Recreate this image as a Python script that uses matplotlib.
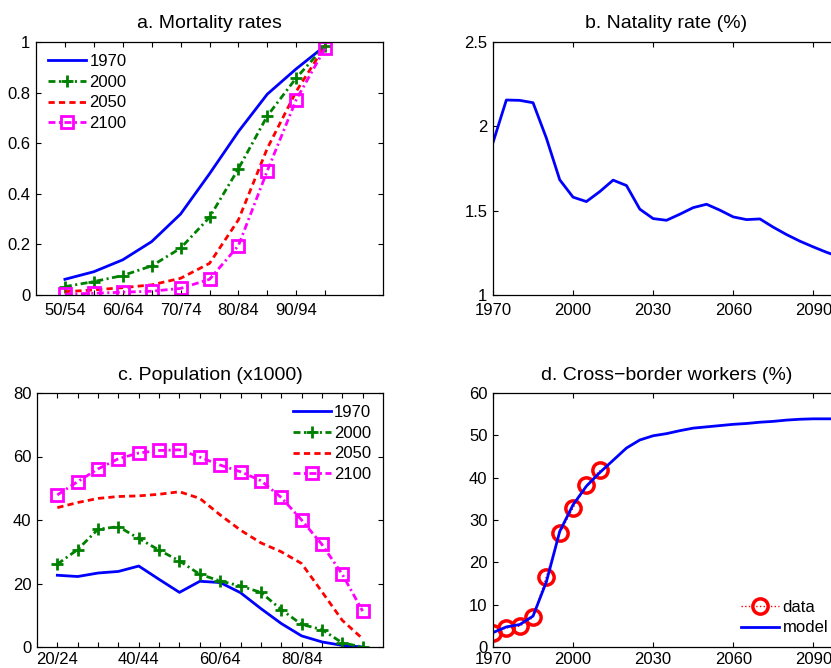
import numpy as np
import matplotlib
matplotlib.use("Agg")
from matplotlib import pyplot as plt
from matplotlib.ticker import FuncFormatter

plt.rcParams['font.family'] = ['Liberation Sans', 'DejaVu Sans']
plt.rcParams['font.size'] = 12
plt.rcParams['axes.linewidth'] = 0.9
plt.rcParams['xtick.direction'] = 'in'
plt.rcParams['ytick.direction'] = 'in'
plt.rcParams['xtick.top'] = True
plt.rcParams['ytick.right'] = True
plt.rcParams['xtick.major.size'] = 3.5
plt.rcParams['ytick.major.size'] = 3.5
plt.rcParams['xtick.major.pad'] = 6
plt.rcParams['ytick.major.pad'] = 4
plt.rcParams['lines.scale_dashes'] = False

# ---- data ----
mort_ages = ['50/54', '55/59', '60/64', '65/69', '70/74',
             '75/79', '80/84', '85/89', '90/94', '95/99']
mort_1970 = [0.062, 0.092, 0.139, 0.211, 0.320, 0.479, 0.646, 0.794, 0.894, 0.985]
mort_2000 = [0.033, 0.053, 0.077, 0.115, 0.185, 0.307, 0.499, 0.708, 0.858, 0.985]
mort_2050 = [0.013, 0.020, 0.029, 0.040, 0.066, 0.125, 0.297, 0.580, 0.805, 0.985]
mort_2100 = [0.003, 0.007, 0.011, 0.015, 0.026, 0.062, 0.195, 0.491, 0.772, 0.976]

nat_years = list(range(1970, 2101, 5))
nat_rate = [1.904, 2.156, 2.154, 2.140, 1.930, 1.683, 1.580, 1.554, 1.613, 1.681,
            1.649, 1.509, 1.453, 1.443, 1.479, 1.518, 1.538, 1.503, 1.463, 1.447,
            1.451, 1.402, 1.358, 1.319, 1.285, 1.253, 1.225]

pop_ages = ['20/24', '25/29', '30/34', '35/39', '40/44', '45/49', '50/54', '55/59',
            '60/64', '65/69', '70/74', '75/79', '80/84', '85/89', '90/94', '95/99']
pop_1970 = [22.6, 22.2, 23.3, 23.8, 25.5, 21.3, 17.2, 20.7, 20.3, 17.1,
            12.1, 7.4, 3.5, 1.6, 0.5, 0.0]
pop_2000 = [26.1, 30.7, 37.1, 37.9, 34.2, 30.5, 27.1, 22.9, 20.8, 19.2,
            17.2, 11.8, 7.1, 5.5, 1.3, 0.0]
pop_2050 = [43.9, 45.5, 46.8, 47.4, 47.6, 48.1, 48.9, 46.8, 41.6, 36.8,
            32.8, 30.0, 26.3, 17.4, 8.4, 2.6]
pop_2100 = [47.9, 52.1, 56.1, 59.3, 61.1, 61.9, 62.1, 59.8, 57.3, 55.2,
            52.4, 47.1, 40.0, 32.3, 22.9, 11.3]

cb_data_years = [1970, 1975, 1980, 1985, 1990, 1995, 2000, 2005, 2010]
cb_data = [3.4, 4.5, 4.9, 7.0, 16.6, 26.9, 32.9, 38.2, 41.7]
cb_model_years = list(range(1970, 2101, 5))
cb_model = [3.4, 4.75, 5.3, 7.3, 15.4, 27.3, 33.6, 38.0, 41.2, 44.1, 47.0, 48.9,
            49.9, 50.4, 51.1, 51.7, 52.0, 52.3, 52.6, 52.8, 53.1, 53.3, 53.6,
            53.8, 53.9, 53.9, 53.9]

year_ticks = [1970, 2000, 2030, 2060, 2090]

green = (0, 0.5, 0)
magenta = '#ff00ff'
dashdot = (0, (5, 2.5, 1.5, 2.5))
dashed = (0, (4.5, 3))
W, H = 831, 668


def ax_at(x0, y0, x1, y1):
    return fig.add_axes([x0 / W, 1 - y1 / H, (x1 - x0) / W, (y1 - y0) / H])


def age_ticks(ax, labels, every):
    pos = np.arange(1, len(labels) + 1)
    ax.set_xticks(pos)
    ax.set_xticklabels([l if i % every == 0 else '' for i, l in enumerate(labels)])


def four_lines(ax, x, y1970, y2000, y2050, y2100):
    ax.plot(x, y1970, '-', color='b', lw=2, label='1970')
    ax.plot(x, y2000, ls=dashdot, color=green, lw=2, marker='+', ms=9, mew=2,
            label='2000')
    ax.plot(x, y2050, ls=dashed, color='r', lw=2, label='2050')
    ax.plot(x, y2100, ls=dashdot, color=magenta, lw=2, marker='s', ms=8, mew=2,
            mfc='none', label='2100')


fmt = FuncFormatter(lambda v, p: '%g' % v)
leg_kw = dict(frameon=False, handlelength=2.3, labelspacing=0.35,
              borderaxespad=0.3, handletextpad=0.2, borderpad=0.4)

fig = plt.figure(figsize=(W / 100, H / 100), dpi=100)

# a. mortality
ax = ax_at(36, 42, 383, 295)
four_lines(ax, np.arange(1, len(mort_ages) + 1), mort_1970, mort_2000, mort_2050, mort_2100)
ax.set_xlim(0, 12)
ax.set_ylim(0, 1)
ax.set_yticks(np.arange(0, 1.01, 0.2))
ax.yaxis.set_major_formatter(fmt)
age_ticks(ax, mort_ages, 2)
ax.set_title('a. Mortality rates', fontsize=14, pad=10)
ax.legend(loc='upper left', **leg_kw)

# b. natality
ax = ax_at(493, 42, 840, 295)
ax.plot(nat_years, nat_rate, '-', color='b', lw=2)
ax.set_xlim(1970, 2100)
ax.set_ylim(1, 2.5)
ax.set_yticks([1, 1.5, 2, 2.5])
ax.yaxis.set_major_formatter(fmt)
ax.set_xticks(year_ticks)
ax.set_title('b. Natality rate (%)', fontsize=14, pad=10)

# c. population
ax = ax_at(37, 393, 383, 647)
four_lines(ax, np.arange(1, len(pop_ages) + 1), pop_1970, pop_2000, pop_2050, pop_2100)
ax.set_xlim(0, 17)
ax.set_ylim(0, 80)
ax.set_yticks(np.arange(0, 81, 20))
age_ticks(ax, pop_ages, 4)
ax.tick_params(axis='x', pad=3.5)
ax.set_title('c. Population (x1000)', fontsize=14, pad=9)
ax.legend(loc='upper right', **leg_kw)

# d. cross-border workers
ax = ax_at(493, 393, 840, 647)
ax.plot(cb_data_years, cb_data, ':', color='r', lw=1, marker='o', ms=11, mew=2.5,
        mfc='none', label='data')
ax.plot(cb_model_years, cb_model, '-', color='b', lw=2, label='model')
ax.set_xlim(1970, 2100)
ax.set_ylim(0, 60)
ax.set_yticks(np.arange(0, 61, 10))
ax.set_xticks(year_ticks)
ax.tick_params(axis='x', pad=3.5)
ax.set_title('d. Cross\u2212border workers (%)', fontsize=14, pad=9)
ax.legend(loc='lower right', **leg_kw)

fig.savefig('out.png', dpi=100)
